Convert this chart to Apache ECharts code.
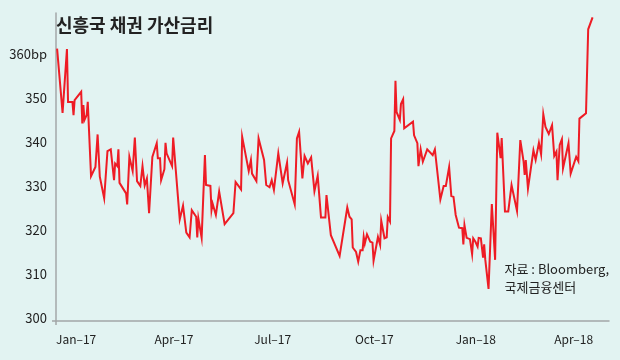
<!DOCTYPE html>
<html>
<head>
<meta charset="utf-8">
<script src="https://cdn.jsdelivr.net/npm/echarts@6/dist/echarts.min.js"></script>
<style>
html,body{margin:0;padding:0;background:#e2f3f2;}
#c{width:620px;height:360px;}
</style>
</head>
<body>
<div id="c"></div>
<script>
const dates = [
'2017-01-02','2017-01-07','2017-01-11','2017-01-12','2017-01-16','2017-01-17','2017-01-18','2017-01-24','2017-01-25','2017-01-26',
'2017-01-27','2017-01-29','2017-01-30','2017-02-02','2017-02-06','2017-02-08','2017-02-10','2017-02-14','2017-02-17','2017-02-20',
'2017-02-23','2017-02-24','2017-02-26','2017-02-27','2017-02-28','2017-03-06','2017-03-07','2017-03-09','2017-03-12','2017-03-14',
'2017-03-16','2017-03-19','2017-03-21','2017-03-23','2017-03-25','2017-03-27','2017-03-30','2017-04-03','2017-04-04','2017-04-06',
'2017-04-07','2017-04-10','2017-04-11','2017-04-12','2017-04-17','2017-04-18','2017-04-24','2017-04-27','2017-04-30','2017-05-03',
'2017-05-05','2017-05-09','2017-05-10','2017-05-11','2017-05-14','2017-05-17','2017-05-18','2017-05-22','2017-05-23','2017-05-24',
'2017-05-27','2017-05-30','2017-06-04','2017-06-12','2017-06-14','2017-06-19','2017-06-20','2017-06-26','2017-06-28','2017-06-29',
'2017-07-03','2017-07-05','2017-07-10','2017-07-12','2017-07-15','2017-07-17','2017-07-19','2017-07-23','2017-07-27','2017-07-31',
'2017-08-01','2017-08-07','2017-08-09','2017-08-11','2017-08-14','2017-08-16','2017-08-19','2017-08-22','2017-08-25','2017-08-28',
'2017-08-31','2017-09-04','2017-09-05','2017-09-09','2017-09-17','2017-09-24','2017-09-26','2017-09-28','2017-09-29','2017-10-02',
'2017-10-04','2017-10-06','2017-10-08','2017-10-09','2017-10-10','2017-10-12','2017-10-15','2017-10-17','2017-10-18','2017-10-22',
'2017-10-24','2017-10-25','2017-10-28','2017-10-30','2017-10-31','2017-11-02','2017-11-03','2017-11-06','2017-11-07','2017-11-08',
'2017-11-11','2017-11-12','2017-11-14','2017-11-15','2017-11-23','2017-11-24','2017-11-27','2017-11-28','2017-11-30','2017-12-02',
'2017-12-06','2017-12-11','2017-12-13','2017-12-18','2017-12-21','2017-12-23','2017-12-26','2017-12-28','2017-12-30','2018-01-01',
'2018-01-04','2018-01-07','2018-01-08','2018-01-09','2018-01-11','2018-01-14','2018-01-16','2018-01-17','2018-01-19','2018-01-21',
'2018-01-22','2018-01-24','2018-01-26','2018-01-27','2018-01-28','2018-01-31','2018-02-03','2018-02-06','2018-02-08','2018-02-11',
'2018-02-12','2018-02-15','2018-02-18','2018-02-21','2018-02-26','2018-03-01','2018-03-04','2018-03-05','2018-03-06','2018-03-08',
'2018-03-13','2018-03-15','2018-03-18','2018-03-20','2018-03-22','2018-03-24','2018-03-25','2018-03-27','2018-03-30','2018-03-31',
'2018-04-01','2018-04-03','2018-04-04','2018-04-06','2018-04-08','2018-04-09','2018-04-14','2018-04-16','2018-04-21','2018-04-23',
'2018-04-24','2018-04-30','2018-05-02','2018-05-06'
];
const spread = [
361.9,347.3,361.8,349.8,349.8,346.8,350.2,352.1,344.9,349.1,
345.7,346.8,349.8,332.9,335.0,342.4,332.8,327.9,338.6,339.0,
332.0,335.8,335.2,339.0,331.4,329.0,326.5,337.3,334.1,341.7,
331.8,330.7,335.2,330.8,332.4,324.5,337.3,340.4,337.0,337.0,
332.0,334.5,340.5,338.1,335.2,341.7,323.1,326.2,320.1,319.0,
325.2,323.7,319.0,323.3,318.9,337.7,330.9,330.7,325.2,326.7,
324.1,329.4,322.0,324.5,331.6,329.9,341.9,334.1,336.6,333.5,
331.8,341.5,336.6,330.9,330.4,332.0,329.8,338.1,331.3,336.0,
332.0,326.5,341.5,343.0,332.4,337.5,335.8,337.2,329.5,333.0,
323.5,323.5,328.6,319.5,314.8,325.8,323.7,323.1,316.7,315.7,
313.5,316.1,316.1,319.1,317.6,319.7,318.0,317.8,313.7,319.1,
317.3,322.8,318.8,319.0,323.6,322.6,341.5,343.2,354.6,347.5,
345.7,349.3,350.4,343.8,345.3,342.2,340.4,335.2,339.0,336.2,
339.0,337.7,339.0,327.6,330.7,330.7,335.0,328.4,328.2,324.1,
321.2,321.1,317.4,321.8,318.9,318.6,315.2,318.8,318.0,316.9,
318.9,318.8,314.4,317.4,314.0,307.3,326.6,313.9,342.8,337.0,
341.6,324.9,324.9,330.9,325.0,341.1,336.2,333.2,336.6,330.1,
338.8,336.6,340.5,337.9,347.0,344.1,344.5,342.5,344.5,344.9,
337.5,338.5,332.0,340.0,341.3,334.7,340.4,333.5,337.3,336.3,
346.0,347.2,366.3,369.0
];
const xTickDates = ['2017-01-01','2017-04-01','2017-07-01','2017-10-01','2018-01-01','2018-04-01'];
const xTickLabels = ['Jan–17','Apr–17','Jul–17','Oct–17','Jan–18','Apr–18'];
const yTicks = [300,310,320,330,340,350,360];
const yTickLabels = ['300','310','320','330','340','350','360bp'];
const title = '신흥국 채권 가산금리';
const source = ['자료 : Bloomberg,', '국제금융센터'];

const FONT = '"Noto Sans CJK KR","Noto Sans",sans-serif';
const ts = d => Date.UTC(+d.slice(0,4), +d.slice(5,7) - 1, +d.slice(8,10));
const chart = echarts.init(document.getElementById('c'), null, {renderer:'canvas'});
const xTs = xTickDates.map(ts);
chart.setOption({
  animation:false,
  backgroundColor:'#e2f3f2',
  textStyle:{fontFamily:FONT},
  title:{
    text:title, left:51, top:11,
    textStyle:{fontFamily:FONT, fontSize:18, fontWeight:'bold', color:'#222'}
  },
  graphic:[{
    type:'text', right:11, top:260,
    style:{text:source.join('\n'), font:'13px ' + FONT, fill:'#222', align:'right', lineHeight:18}
  }],
  grid:{left:56, right:11, top:13, bottom:39, containLabel:false},
  xAxis:{
    type:'value',
    min:ts('2017-01-01'), max:ts('2018-05-21'),
    axisLine:{show:true, lineStyle:{color:'#a3a7a8', width:1.5}},
    axisTick:{show:true, customValues:[xTs[0]], length:4, lineStyle:{color:'#a3a7a8', width:1.5}},
    splitLine:{show:false},
    axisLabel:{
      customValues:xTs,
      formatter:function(v){ const i = xTs.indexOf(v); return i >= 0 ? xTickLabels[i] : ''; },
      align:'left', margin:12, fontSize:12, color:'#222', fontFamily:FONT
    }
  },
  yAxis:{
    type:'value', min:300, max:370, interval:10,
    axisLine:{show:true, lineStyle:{color:'#a3a7a8', width:1.5}},
    axisTick:{show:true, customValues:[300], length:4, lineStyle:{color:'#a3a7a8', width:1.5}},
    splitLine:{show:false},
    axisLabel:{
      customValues:yTicks,
      formatter:function(v){ const i = yTicks.indexOf(v); return i >= 0 ? '{a|' + yTickLabels[i] + '}' : ''; },
      margin:9, fontSize:13, color:'#222', fontFamily:FONT,
      rich:{a:{fontSize:13, color:'#222', fontFamily:FONT, padding:[0,0,6,0]}}
    }
  },
  series:[{
    type:'line',
    data:dates.map((d,i) => [ts(d), spread[i]]),
    showSymbol:false, symbol:'none',
    lineStyle:{color:'#ee1c25', width:2, join:'miter'},
    itemStyle:{color:'#ee1c25'}
  }]
});
</script>
</body>
</html>
